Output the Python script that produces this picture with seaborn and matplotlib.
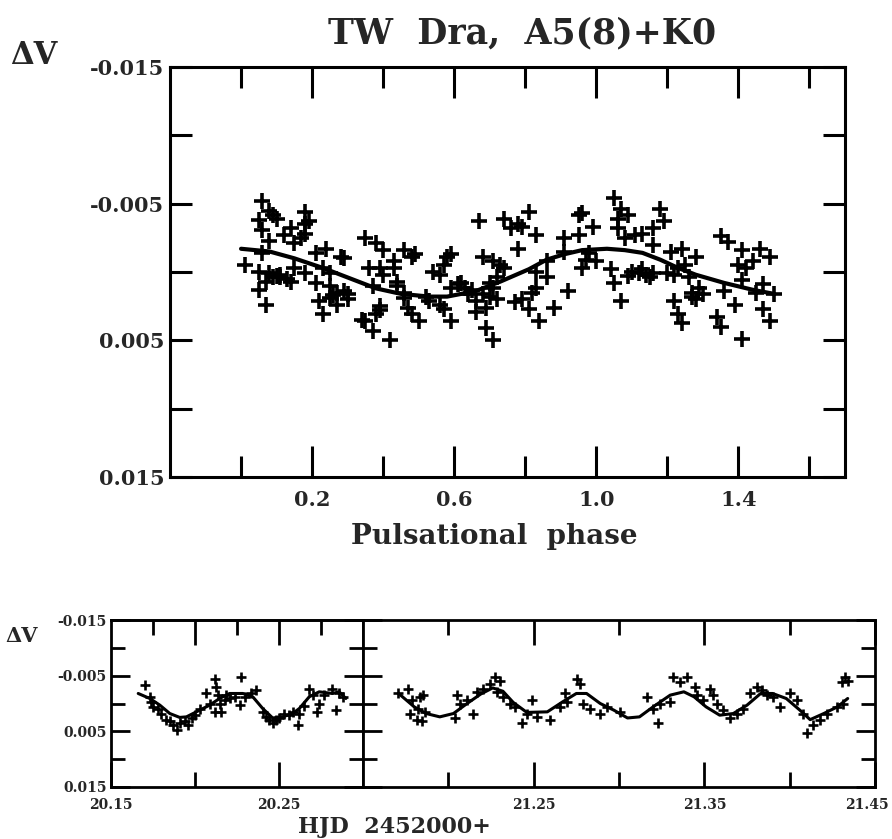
import matplotlib
matplotlib.use("Agg")
import matplotlib.pyplot as plt
from matplotlib.ticker import NullFormatter
from matplotlib.transforms import ScaledTranslation
import seaborn as sns

# ---- top panel: phase diagram ----
phase_pts = [0.01, 0.06, 0.05, 0.06, 0.08, 0.09, 0.10, 0.08, 0.06, 0.05,
             0.08, 0.05, 0.07, 0.07, 0.12, 0.14, 0.15, 0.17, 0.18, 0.18,
             0.19, 0.18, 0.15, 0.11, 0.10, 0.14, 0.18, 0.21, 0.24, 0.23,
             0.25, 0.21, 0.22, 0.23, 0.25, 0.27, 0.28, 0.29, 0.30, 0.29,
             0.30, 0.25, 0.27, 0.35, 0.38, 0.40, 0.36, 0.37, 0.39, 0.40,
             0.43, 0.39, 0.38, 0.35, 0.34, 0.37, 0.42, 0.39, 0.43, 0.44,
             0.44, 0.46, 0.46, 0.48, 0.49, 0.46, 0.47, 0.48, 0.50, 0.52,
             0.54, 0.56, 0.58, 0.59, 0.57, 0.56, 0.57, 0.59, 0.59, 0.61,
             0.62, 0.63, 0.64, 0.66, 0.67, 0.68, 0.69, 0.71, 0.71, 0.73,
             0.66, 0.68, 0.69, 0.72, 0.74, 0.74, 0.76, 0.78, 0.79, 0.81,
             0.78, 0.77, 0.79, 0.81, 0.83, 0.82, 0.84, 0.83, 0.86, 0.83,
             0.86, 0.88, 0.91, 0.91, 0.92, 0.95, 0.96, 0.95, 0.98, 0.99,
             0.97, 0.96, 1.00, 1.05, 1.07, 1.09, 1.06, 1.06, 1.08, 1.04,
             1.05, 1.07, 1.10, 1.13, 1.14, 1.16, 1.11, 1.13, 1.16, 1.18,
             1.19, 1.16, 1.20, 1.22, 1.21, 1.24, 1.23, 1.25, 1.28, 1.26,
             1.22, 1.23, 1.24, 1.27, 1.28, 1.30, 1.35, 1.37, 1.36, 1.34,
             1.35, 1.39, 1.40, 1.41, 1.42, 1.41, 1.44, 1.46, 1.49, 1.41,
             1.47, 1.47, 1.49, 1.50, 1.45, 0.70, 0.71, 0.72, 0.70, 0.09,
             0.11, 0.13, 1.09, 1.12, 1.15, 1.27, 1.29, 0.26, 0.53, 0.65]
dv_pts = [-0.0005, -0.0052, -0.0038, -0.0031, -0.0045, -0.0042, -0.0039, -0.0023, -0.0014, 0.0000,
          0.0001, 0.0013, 0.0024, 0.0007, -0.0027, -0.0032, -0.0021, -0.0025, -0.0044, -0.0035,
          -0.0037, -0.0028, -0.0003, 0.0004, 0.0003, 0.0007, 0.0001, -0.0014, -0.0017, -0.0003,
          0.0001, 0.0008, 0.0021, 0.0031, 0.0010, 0.0024, -0.0011, 0.0014, 0.0016, -0.0010,
          0.0020, 0.0019, 0.0015, -0.0025, -0.0021, -0.0016, -0.0003, 0.0010, -0.0003, 0.0002,
          -0.0008, 0.0025, 0.0031, 0.0036, 0.0035, 0.0043, 0.0050, 0.0028, -0.0003, 0.0007,
          0.0010, 0.0015, -0.0016, -0.0011, -0.0013, 0.0019, 0.0026, 0.0031, 0.0036, 0.0018,
          0.0000, 0.0002, -0.0011, -0.0013, -0.0005, 0.0024, 0.0027, 0.0036, 0.0012, 0.0009,
          0.0008, 0.0012, 0.0016, 0.0021, -0.0037, -0.0011, 0.0041, 0.0050, -0.0008, -0.0005,
          0.0029, 0.0016, 0.0026, 0.0004, -0.0003, -0.0039, -0.0032, -0.0035, -0.0033, -0.0044,
          -0.0017, 0.0022, 0.0020, 0.0027, 0.0012, 0.0015, 0.0036, 0.0000, 0.0004, -0.0027,
          -0.0008, 0.0026, -0.0025, -0.0015, 0.0014, -0.0042, -0.0043, -0.0027, -0.0014, -0.0033,
          -0.0009, -0.0003, -0.0008, -0.0054, -0.0046, -0.0042, -0.0039, -0.0032, -0.0025, -0.0002,
          0.0008, 0.0021, 0.0000, -0.0002, 0.0002, 0.0001, -0.0027, -0.0028, -0.0032, -0.0046,
          -0.0037, -0.0020, 0.0001, 0.0002, -0.0015, -0.0017, -0.0003, -0.0005, -0.0011, 0.0004,
          0.0021, 0.0031, 0.0037, 0.0015, 0.0020, 0.0016, -0.0026, -0.0022, 0.0014, 0.0033,
          0.0040, 0.0024, -0.0005, -0.0016, -0.0003, 0.0006, -0.0008, -0.0017, -0.0011, 0.0049,
          0.0009, 0.0027, 0.0036, 0.0016, 0.0015, 0.0018, 0.0012, 0.0020, 0.0008, 0.0004,
          0.0002, 0.0005, 0.0003, 0.0001, 0.0004, 0.0018, 0.0012, 0.0017, 0.0021, 0.0013]
phase_fit = [0.00, 0.08, 0.15, 0.23, 0.30, 0.38, 0.45, 0.53, 0.58, 0.66, 0.73, 0.81,
             0.86, 0.91, 0.96, 1.03, 1.08, 1.13, 1.18, 1.23, 1.28, 1.36, 1.44, 1.50]
dv_fit = [-0.0017, -0.0015, -0.0010, -0.0003, 0.0004, 0.0012, 0.0016, 0.0018, 0.0018, 0.0014, 0.0007, -0.0002,
          -0.0009, -0.0013, -0.0016, -0.0017, -0.0016, -0.0014, -0.0009, -0.0003, 0.0002, 0.0008, 0.0013, 0.0016]

# ---- bottom left: first night ----
hjd1_pts = [20.1702, 20.1731, 20.1741, 20.1751, 20.1830, 20.1850, 20.1870, 20.1890, 20.1909, 20.1939,
            20.1959, 20.2028, 20.2067, 20.2087, 20.2117, 20.2127, 20.2136, 20.2146, 20.2156, 20.2176,
            20.2117, 20.2186, 20.2275, 20.2265, 20.2334, 20.2364, 20.2403, 20.2423, 20.2443, 20.2462,
            20.2502, 20.2532, 20.2561, 20.2581, 20.2611, 20.2621, 20.2680, 20.2700, 20.2729, 20.2739,
            20.2838, 20.2818, 20.2858, 20.2878, 20.1780, 20.1800, 20.1980, 20.2000, 20.2210, 20.2240,
            20.2300, 20.2480, 20.2650, 20.2770]
dv1_pts = [-0.0034, -0.0012, -0.0003, 0.0006, 0.0029, 0.0032, 0.0038, 0.0047, 0.0035, 0.0032,
           0.0038, 0.0009, -0.0018, 0.0000, -0.0044, -0.0029, -0.0015, 0.0000, 0.0015, -0.0006,
           0.0015, -0.0015, -0.0047, 0.0003, -0.0018, -0.0024, 0.0015, 0.0024, 0.0029, 0.0035,
           0.0026, 0.0018, 0.0021, 0.0015, 0.0038, 0.0018, -0.0026, -0.0015, 0.0015, 0.0000,
           0.0012, -0.0026, -0.0018, -0.0012, 0.0010, 0.0018, 0.0026, 0.0020, -0.0010, -0.0012,
           -0.0012, 0.0030, 0.0005, -0.0016]
hjd1_fit = [20.1662, 20.1731, 20.1791, 20.1850, 20.1909, 20.1949, 20.2008, 20.2087, 20.2146, 20.2206,
            20.2285, 20.2344, 20.2403, 20.2462, 20.2522, 20.2581, 20.2621, 20.2680, 20.2739, 20.2818,
            20.2858, 20.2898]
dv1_fit = [-0.0018, -0.0009, 0.0003, 0.0018, 0.0025, 0.0024, 0.0015, 0.0003, -0.0009, -0.0018,
           -0.0018, -0.0012, 0.0009, 0.0026, 0.0024, 0.0018, 0.0009, -0.0012, -0.0021, -0.0018,
           -0.0021, -0.0009]

# ---- bottom right: second night ----
hjd2_pts = [21.1707, 21.1765, 21.1785, 21.1824, 21.1834, 21.1853, 21.1775, 21.1815, 21.1844, 21.1863,
            21.2049, 21.2068, 21.2039, 21.2108, 21.2146, 21.2166, 21.2205, 21.2244, 21.2274, 21.2303,
            21.2283, 21.2322, 21.2361, 21.2391, 21.2430, 21.2459, 21.2489, 21.2518,
            21.2596, 21.2654, 21.2684, 21.2694, 21.2752, 21.2772, 21.2791, 21.2830, 21.2889, 21.2928,
            21.3006, 21.3162, 21.3201, 21.3231, 21.3240, 21.3299, 21.3318, 21.3358, 21.3397, 21.3446,
            21.3455, 21.3494, 21.3533, 21.3553, 21.3573, 21.3611, 21.3651, 21.3690, 21.3729, 21.3768,
            21.3807, 21.3836, 21.3866, 21.3905, 21.3944, 21.4002, 21.4041, 21.4080, 21.4100, 21.4139,
            21.4178, 21.4217, 21.4276, 21.4315, 21.4305, 21.4344, 21.4324]
dv2_pts = [-0.0018, -0.0026, -0.0006, 0.0009, -0.0012, -0.0015, 0.0018, 0.0029, 0.0032, 0.0015,
           -0.0015, 0.0000, 0.0026, -0.0006, 0.0018, -0.0021, -0.0026, -0.0035, -0.0047, -0.0041,
           -0.0021, -0.0012, 0.0000, 0.0006, 0.0035, 0.0018, -0.0006, 0.0024,
           0.0029, 0.0006, -0.0018, -0.0003, -0.0044, -0.0035, 0.0000, 0.0009, 0.0018, 0.0006,
           0.0015, -0.0012, 0.0009, 0.0035, 0.0000, -0.0003, -0.0047, -0.0038, -0.0047, -0.0029,
           -0.0015, -0.0006, -0.0026, -0.0015, 0.0000, 0.0012, 0.0026, 0.0018, 0.0009, -0.0018,
           -0.0029, -0.0024, -0.0015, -0.0012, 0.0006, -0.0018, -0.0006, 0.0018, 0.0053, 0.0038,
           0.0029, 0.0018, 0.0006, 0.0000, -0.0038, -0.0041, -0.0047]
hjd2_fit = [21.172, 21.180, 21.187, 21.195, 21.203, 21.211, 21.219, 21.226, 21.232, 21.238,
            21.246, 21.258, 21.267, 21.275, 21.281, 21.289, 21.297, 21.305, 21.312, 21.320,
            21.330, 21.338, 21.344, 21.351, 21.359, 21.367, 21.375, 21.383, 21.390, 21.398,
            21.406, 21.412, 21.420, 21.428, 21.434]
dv2_fit = [-0.0015, 0.0006, 0.0018, 0.0024, 0.0018, 0.0000, -0.0017, -0.0028, -0.0022, -0.0002,
           0.0016, 0.0015, -0.0003, -0.0018, -0.0018, 0.0000, 0.0012, 0.0026, 0.0024, 0.0006,
           -0.0015, -0.0021, -0.0012, 0.0006, 0.0021, 0.0018, 0.0003, -0.0018, -0.0018, -0.0009,
           0.0012, 0.0029, 0.0018, 0.0006, -0.0009]

dv_ticks = [-0.015, -0.005, 0.005, 0.015]
dv_ticklabels = ["-0.015", "-0.005", "0.005", "0.015"]
dv_minor = [-0.01, 0.0, 0.01]

sns.set_style("ticks")
plt.rcParams["font.family"] = ["DejaVu Serif"]
plt.rcParams["font.weight"] = "bold"

W, H = 892, 839
fig = plt.figure(figsize=(W / 100, H / 100), dpi=100)


def box(ax, lw=2.2):
    for s in ax.spines.values():
        s.set_visible(True)
        s.set_linewidth(lw)
        s.set_color("black")


# top panel
ax = fig.add_axes([170 / W, 1 - 477 / H, 675 / W, 410 / H])
sns.lineplot(x=phase_fit, y=dv_fit, ax=ax, color="black", lw=3,
             estimator=None, sort=False)
sns.scatterplot(x=phase_pts, y=dv_pts, ax=ax, marker="+", s=120,
                color="black", linewidth=2.6)
ax.set_xlim(-0.2, 1.7)
ax.set_ylim(0.015, -0.015)
ax.set_xticks([0.2, 0.6, 1.0, 1.4], ["0.2", "0.6", "1.0", "1.4"])
ax.set_xticks([0.0, 0.4, 0.8, 1.2, 1.6], minor=True)
ax.set_yticks(dv_ticks, dv_ticklabels)
ax.set_yticks(dv_minor, minor=True)
ax.tick_params(which="both", direction="in", top=True, right=True,
               width=2.2, color="black", labelsize=15)
ax.tick_params(axis="x", which="major", length=22, pad=9)
ax.tick_params(axis="x", which="minor", length=15)
ax.tick_params(axis="y", which="both", length=16, pad=4)
box(ax)

fig.text(522 / W, 1 - 33 / H, "TW  Dra,  A5(8)+K0", ha="center", va="center",
         fontsize=25, fontweight="bold")
fig.text(34 / W, 1 - 55 / H, "ΔV", ha="center", va="center",
         fontsize=22, fontweight="bold")
fig.text(494 / W, 1 - 537 / H, "Pulsational  phase", ha="center", va="center",
         fontsize=20, fontweight="bold")

# bottom panels
bot = 1 - 787 / H
hgt = 167 / H
axL = fig.add_axes([111 / W, bot, 252 / W, hgt])
axR = fig.add_axes([363 / W, bot, 512 / W, hgt])

sns.lineplot(x=hjd1_fit, y=dv1_fit, ax=axL, color="black", lw=2.2,
             estimator=None, sort=False)
sns.scatterplot(x=hjd1_pts, y=dv1_pts, ax=axL, marker="+", s=55,
                color="black", linewidth=1.9)
sns.lineplot(x=hjd2_fit, y=dv2_fit, ax=axR, color="black", lw=2.2,
             estimator=None, sort=False)
sns.scatterplot(x=hjd2_pts, y=dv2_pts, ax=axR, marker="+", s=55,
                color="black", linewidth=1.9)

axL.set_xlim(20.15, 20.30)
axR.set_xlim(21.15, 21.45)
for a in (axL, axR):
    a.set_ylim(0.015, -0.015)
    a.set_ylabel("")
    a.set_yticks(dv_ticks, dv_ticklabels)
    a.set_yticks(dv_minor, minor=True)
    a.tick_params(which="both", direction="in", left=True, right=True,
                  width=2.0, color="black", labelsize=10, pad=3)
    a.tick_params(axis="x", which="both", pad=8)
    a.tick_params(axis="y", which="major", length=14)
    a.tick_params(axis="y", which="minor", length=10)
    a.tick_params(axis="x", which="major", length=18)
    a.tick_params(axis="x", which="minor", length=11)
    box(a, 2.0)
axR.tick_params(axis="y", labelleft=False)

axL.set_xticks([20.15, 20.25], ["20.15", "20.25"])
axL.set_xticks([20.20], minor=True)
axL.tick_params(axis="x", which="both", top=False)
sec = axL.secondary_xaxis("top")
sec.set_xticks([20.20, 20.25])
sec.set_xticks([20.175, 20.225, 20.275], minor=True)
sec.xaxis.set_major_formatter(NullFormatter())
sec.tick_params(which="both", direction="in", width=2.0, color="black")
sec.tick_params(which="major", length=18)
sec.tick_params(which="minor", length=11)
sec.spines["top"].set_linewidth(2.0)

axR.set_xticks([21.25, 21.35, 21.45], ["21.25", "21.35", "21.45"])
axR.set_xticks([21.20, 21.30, 21.40], minor=True)
axR.tick_params(axis="x", which="both", top=True)
# last label sits at the figure edge: right-align it so it stays inside
last = axR.get_xticklabels()[-1]
last.set_ha("right")
last.set_transform(last.get_transform() + ScaledTranslation(14 / 100, 0, fig.dpi_scale_trans))

fig.text(22 / W, 1 - 636 / H, "ΔV", ha="center", va="center",
         fontsize=15, fontweight="bold")
fig.text(394 / W, 1 - 827 / H, "HJD  2452000+", ha="center", va="center",
         fontsize=16, fontweight="bold")

fig.savefig("out.png", dpi=100, facecolor="white")
